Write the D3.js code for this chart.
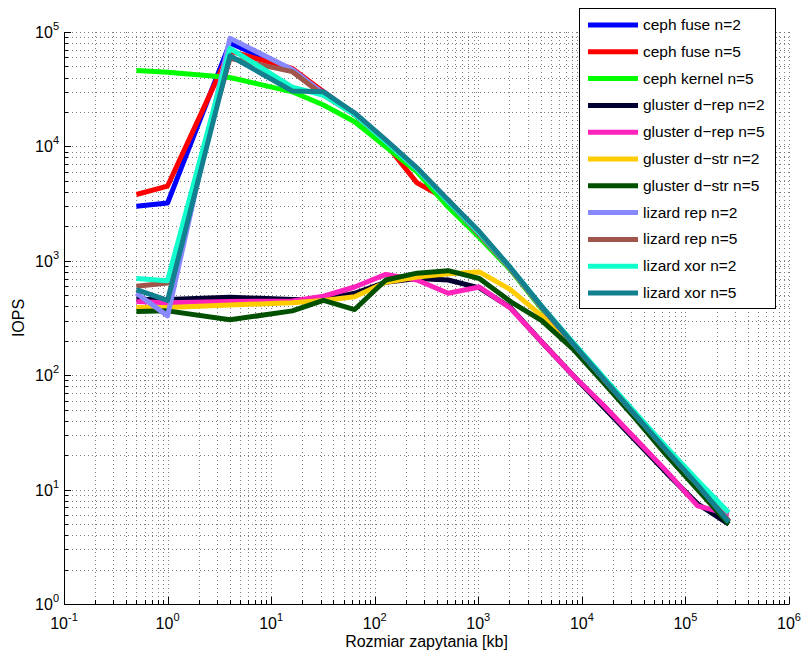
<!DOCTYPE html>
<html><head><meta charset="utf-8">
<script src="https://cdn.jsdelivr.net/npm/d3@7"></script>
<style>body{margin:0;background:#fff}svg{display:block}text{font-family:"Liberation Sans",Arial,sans-serif;fill:#000}</style>
</head><body>
<svg id="c" width="804" height="654"></svg>
<script>
const sizes = [0.5,1,4,16,32,64,128,256,512,1024,2048,4096,8192,16384,32768,65536,131072,262144];
const cephFuse2   = [3000,3200,80000,46000,30000,19000,11000,6300,3300,1700,850,390,190,92,45,22,11,5.3];
const cephFuse5   = [3800,4500,68000,48000,30000,19000,10500,4800,3400,1700,850,390,190,92,45,22,11,5.3];
const cephKernel5 = [46000,44500,40000,30000,23000,16400,9900,6000,2950,1600,830,380,185,90,44,21.5,10.8,5.2];
const glusterDrep2 = [460,460,480,460,460,520,650,700,680,580,390,195,100,52,27,14,7.5,5.0];
const glusterDrep5 = [440,430,440,445,490,590,760,680,520,590,385,195,100,54,28,14.5,7.2,6.1];
const glusterDstr2 = [390,390,410,430,450,485,650,720,770,800,560,330,180,90,44,21.5,10.8,5.2];
const glusterDstr5 = [360,365,305,365,450,375,680,780,820,700,440,300,170,85,42,20,10,5.0];
const lizardRep2 = [520,330,88000,47000,29000,19500,11200,6400,3300,1700,850,390,190,92,45,22,11,5.3];
const lizardRep5 = [600,640,59000,45000,28000,19000,11000,6300,3300,1700,850,390,190,92,45,22,11,5.3];
const lizardXor2 = [700,670,72000,33000,28000,19000,11000,6300,3300,1750,870,400,195,95,47,23.5,12,6.3];
const lizardXor5 = [560,450,62000,30500,30000,19600,11400,6500,3400,1800,870,400,190,92,45,22,11,5.2];

const seriesNames = ["ceph fuse n=2","ceph fuse n=5","ceph kernel n=5","gluster d\u2212rep n=2","gluster d\u2212rep n=5","gluster d\u2212str n=2","gluster d\u2212str n=5","lizard rep n=2","lizard rep n=5","lizard xor n=2","lizard xor n=5"];
const seriesValues = [cephFuse2,cephFuse5,cephKernel5,glusterDrep2,glusterDrep5,glusterDstr2,glusterDstr5,lizardRep2,lizardRep5,lizardXor2,lizardXor5];
const seriesColors = ["#0000ff","#ff0000","#00ff00","#000030","#ff22bb","#ffcc00","#005000","#8888ff","#a0554a","#11ffcc","#12808f"];
const xTickExps = [-1,0,1,2,3,4,5,6];
const yTickExps = [0,1,2,3,4,5];

const svg = d3.select("#c");
const L=64,R=789,T=32,B=604;
const x = d3.scaleLog().domain([0.1,1e6]).range([L,R]);
const y = d3.scaleLog().domain([1,1e5]).range([B,T]);

// grid
const gx=[],gy=[];
for(let e=-1;e<6;e++) for(let k=1;k<10;k++) gx.push(k*Math.pow(10,e));
gx.push(1e6);
for(let e=0;e<5;e++) for(let k=1;k<10;k++) gy.push(k*Math.pow(10,e));
gy.push(1e5);
const grid = svg.append("g").attr("stroke","#000").attr("stroke-width",1).attr("stroke-dasharray","1,3").attr("opacity",0.5);
grid.selectAll("line.gx").data(gx).join("line").attr("x1",d=>Math.round(x(d))+0.5).attr("x2",d=>Math.round(x(d))+0.5).attr("y1",T).attr("y2",B);
grid.selectAll("line.gy").data(gy).join("line").attr("y1",d=>Math.round(y(d))+0.5).attr("y2",d=>Math.round(y(d))+0.5).attr("x1",L).attr("x2",R);

// axes
const ax = svg.append("g").attr("stroke","#000").attr("stroke-width",1);
ax.append("line").attr("x1",L+0.5).attr("x2",L+0.5).attr("y1",T).attr("y2",B+0.5);
ax.append("line").attr("x1",L).attr("x2",R+0.5).attr("y1",B+0.5).attr("y2",B+0.5);
gx.forEach(v=>{const major=Math.abs(Math.log10(v)-Math.round(Math.log10(v)))<1e-9;const px=Math.round(x(v))+0.5;ax.append("line").attr("x1",px).attr("x2",px).attr("y1",B).attr("y2",B-(major?7:4));});
gy.forEach(v=>{const major=Math.abs(Math.log10(v)-Math.round(Math.log10(v)))<1e-9;const py=Math.round(y(v))+0.5;ax.append("line").attr("y1",py).attr("y2",py).attr("x1",L).attr("x2",L+(major?7:4));});

// tick labels
xTickExps.forEach(e=>{
  const t=svg.append("text").attr("x",x(Math.pow(10,e))).attr("y",B+25).attr("text-anchor","middle").attr("font-size",16);
  t.append("tspan").text("10");
  t.append("tspan").attr("font-size",11).attr("dy",-8).text(e<0?"-"+(-e):String(e));
});
yTickExps.forEach(e=>{
  const t=svg.append("text").attr("x",L-5).attr("y",y(Math.pow(10,e))+6).attr("text-anchor","end").attr("font-size",16);
  t.append("tspan").text("10");
  t.append("tspan").attr("font-size",11).attr("dy",-8).text(String(e));
});
svg.append("text").attr("x",(L+R)/2).attr("y",647).attr("text-anchor","middle").attr("font-size",16).text("Rozmiar zapytania [kb]");
svg.append("text").attr("transform",`translate(24,${(T+B)/2}) rotate(-90)`).attr("text-anchor","middle").attr("font-size",16).text("IOPS");

// lines
const line = d3.line().x((d,i)=>x(sizes[i])).y(d=>y(d));
seriesValues.forEach((vals,i)=>{
  svg.append("path").attr("d",line(vals)).attr("fill","none").attr("stroke",seriesColors[i]).attr("stroke-width",5).attr("stroke-linejoin","round");
});

// legend
const lg = svg.append("g");
lg.append("rect").attr("x",579.5).attr("y",8.5).attr("width",196).attr("height",300).attr("fill","#fff").attr("stroke","#000").attr("stroke-width",1);
seriesNames.forEach((n,i)=>{
  const yy = 25 + i*26.8;
  lg.append("line").attr("x1",588).attr("x2",638).attr("y1",yy).attr("y2",yy).attr("stroke",seriesColors[i]).attr("stroke-width",5);
  lg.append("text").attr("x",643).attr("y",yy+5).attr("font-size",15.5).text(n);
});
</script>
</body></html>
